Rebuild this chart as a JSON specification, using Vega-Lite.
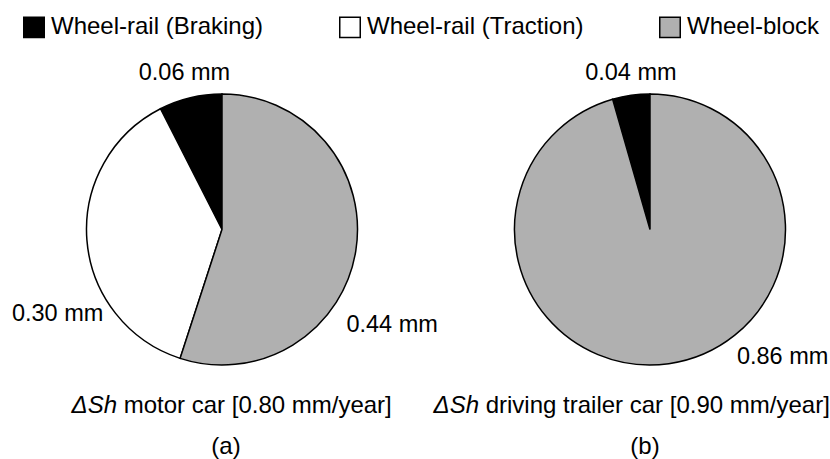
{
  "$schema": "https://vega.github.io/schema/vega-lite/v6.json",
  "width": 830,
  "height": 459,
  "autosize": {"type": "none"},
  "padding": 0,
  "background": "white",
  "config": {"view": {"stroke": null}, "font": "Liberation Sans"},
  "datasets": {
    "slices": [
      {"car": "a", "part": "Wheel-rail (Braking)", "value": 0.06, "label": "0.06 mm"},
      {"car": "a", "part": "Wheel-rail (Traction)", "value": 0.30, "label": "0.30 mm"},
      {"car": "a", "part": "Wheel-block", "value": 0.44, "label": "0.44 mm"},
      {"car": "b", "part": "Wheel-rail (Braking)", "value": 0.04, "label": "0.04 mm"},
      {"car": "b", "part": "Wheel-block", "value": 0.86, "label": "0.86 mm"}
    ],
    "captions": [
      {"car": "a", "sym": "ΔSh", "rest": "motor car [0.80 mm/year]", "panel": "(a)"},
      {"car": "b", "sym": "ΔSh", "rest": "driving trailer car [0.90 mm/year]", "panel": "(b)"}
    ]
  },
  "layer": [
    {
      "data": {"name": "slices"},
      "layer": [
        {
          "transform": [{"filter": "datum.car == 'a'"}],
          "layer": [
            {
              "mark": {"type": "arc", "radius": 135.5, "stroke": "black", "strokeWidth": 1.5},
              "encoding": {
                "x": {"field": "car", "type": "nominal", "scale": {"type": "point", "domain": ["a", "b"], "range": [222, 650], "padding": 0}, "axis": null},
                "theta": {"field": "value", "type": "quantitative", "stack": true},
                "order": {"field": "value", "sort": "descending"},
                "color": {
                  "field": "part", "type": "nominal",
                  "scale": {"domain": ["Wheel-rail (Braking)", "Wheel-rail (Traction)", "Wheel-block"], "range": ["#000000", "#ffffff", "#b0b0b0"]},
                  "legend": {
                    "orient": "none", "legendX": 22, "legendY": 15, "direction": "horizontal", "title": null,
                    "symbolType": "square", "symbolSize": 420, "symbolStrokeColor": "black", "symbolStrokeWidth": 1.5, "symbolOpacity": 1,
                    "labelFontSize": 24, "labelFont": "Liberation Sans", "labelColor": "black", "labelOffset": 5, "columnPadding": 72, "labelLimit": 400
                  }
                }
              }
            },
            {
              "mark": {"type": "text", "fontSize": 23.5, "color": "black",
                "radius": {"expr": "datum.value > 0.35 ? 195 : datum.value > 0.2 ? 185 : 161"},
                "thetaOffset": {"expr": "datum.value > 0.35 ? 0.354 : datum.value > 0.2 ? -0.398 : 0"}},
              "encoding": {
                "x": {"field": "car", "type": "nominal", "scale": {"type": "point", "domain": ["a", "b"], "range": [222, 650], "padding": 0}, "axis": null},
                "theta": {"field": "value", "type": "quantitative", "stack": true},
                "order": {"field": "value", "sort": "descending"},
                "text": {"field": "label"}
              }
            }
          ]
        },
        {
          "transform": [{"filter": "datum.car == 'b'"}],
          "layer": [
            {
              "mark": {"type": "arc", "radius": 135.5, "stroke": "black", "strokeWidth": 1.5},
              "encoding": {
                "x": {"field": "car", "type": "nominal", "scale": {"type": "point", "domain": ["a", "b"], "range": [222, 650], "padding": 0}, "axis": null},
                "theta": {"field": "value", "type": "quantitative", "stack": true},
                "order": {"field": "value", "sort": "descending"},
                "color": {"field": "part", "type": "nominal"}
              }
            },
            {
              "mark": {"type": "text", "fontSize": 23.5, "color": "black",
                "radius": {"expr": "datum.value > 0.5 ? 184 : 158"},
                "thetaOffset": {"expr": "datum.value > 0.5 ? -0.665 : 0.018"}},
              "encoding": {
                "x": {"field": "car", "type": "nominal", "scale": {"type": "point", "domain": ["a", "b"], "range": [222, 650], "padding": 0}, "axis": null},
                "theta": {"field": "value", "type": "quantitative", "stack": true},
                "order": {"field": "value", "sort": "descending"},
                "text": {"field": "label"}
              }
            }
          ]
        }
      ],
      "resolve": {"scale": {"theta": "independent"}}
    },
    {
      "data": {"name": "captions"},
      "layer": [
        {
          "mark": {"type": "text", "fontSize": 24, "fontStyle": "italic", "align": "right", "dx": -6.7, "dy": 176.5, "color": "black"},
          "encoding": {
            "x": {"field": "car", "type": "nominal", "scale": {"type": "point", "domain": ["a", "b"], "range": [123.7, 485.7], "padding": 0}, "axis": null},
            "text": {"field": "sym"}
          }
        },
        {
          "mark": {"type": "text", "fontSize": 24, "align": "left", "dy": 176.5, "color": "black"},
          "encoding": {
            "x": {"field": "car", "type": "nominal", "scale": {"type": "point", "domain": ["a", "b"], "range": [123.7, 485.7], "padding": 0}, "axis": null},
            "text": {"field": "rest"}
          }
        },
        {
          "mark": {"type": "text", "fontSize": 24, "align": "center", "dy": 217.5, "color": "black"},
          "encoding": {
            "x": {"field": "car", "type": "nominal", "scale": {"type": "point", "domain": ["a", "b"], "range": [226, 645], "padding": 0}, "axis": null},
            "text": {"field": "panel"}
          }
        }
      ],
      "resolve": {"scale": {"x": "independent"}}
    }
  ],
  "resolve": {"scale": {"x": "independent"}}
}
